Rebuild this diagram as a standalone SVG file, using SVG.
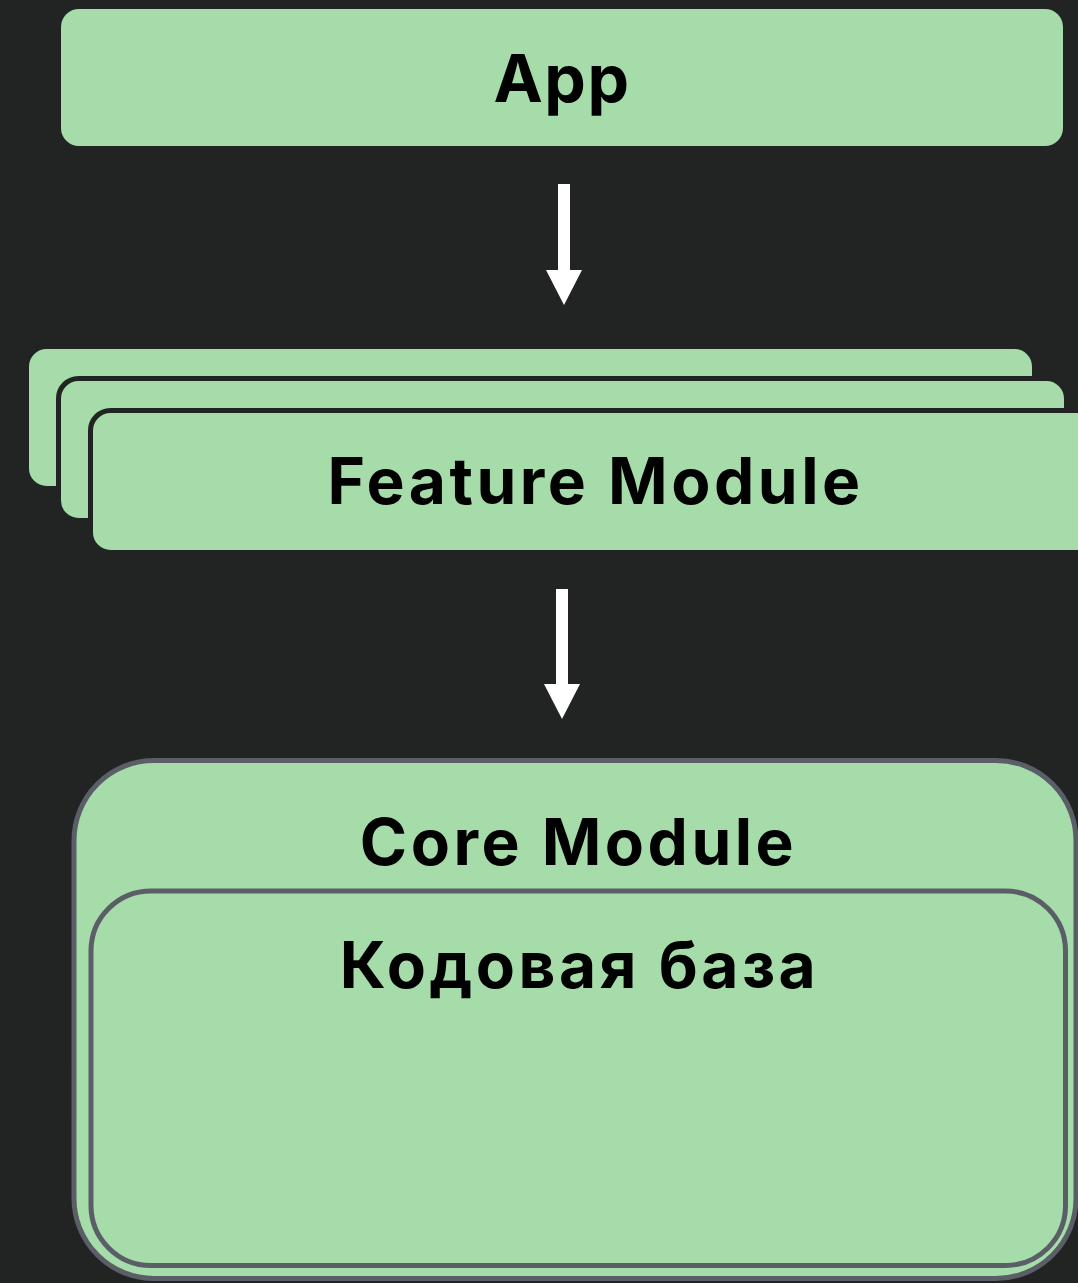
<svg xmlns="http://www.w3.org/2000/svg" width="1078" height="1283" viewBox="0 0 1078 1283">
  <defs>
    <style>
      .bg { fill: #222424; }
      .box { fill: #a6dcaa; }
      .stack { fill: #a6dcaa; stroke: #222424; stroke-width: 5; }
      .core { fill: #a6dcaa; stroke: #5a5e67; stroke-width: 5; }
      .label { font-family: Inter, "Liberation Sans", "DejaVu Sans", sans-serif; font-weight: 700; fill: #000000; text-anchor: middle; letter-spacing: 3.5px; }
      .conn { stroke: #ffffff; stroke-width: 12; fill: none; }
    </style>
    <marker id="head" markerUnits="userSpaceOnUse" markerWidth="40" markerHeight="40" refX="1" refY="0" viewBox="0 -20 40 40" orient="auto" overflow="visible">
      <path d="M0,-18 L35,0 L0,18 Z" fill="#ffffff"/>
    </marker>
  </defs>

  <rect class="bg" x="0" y="0" width="1078" height="1283"/>

  <!-- top level application -->
  <g id="app">
    <rect class="box" x="61" y="9" width="1002" height="137" rx="18"/>
    <text class="label" x="562" y="102" font-size="66" style="letter-spacing:1.5px">App</text>
  </g>

  <!-- stacked feature modules -->
  <g id="feature-module">
    <rect class="stack" x="26.5" y="346.5" width="1008" height="142" rx="20"/>
    <rect class="stack" x="58.5" y="378.5" width="1008" height="142" rx="20"/>
    <rect class="stack" x="90.5" y="410.5" width="1008" height="142" rx="20"/>
    <text class="label" x="595.5" y="504" font-size="64">Feature Module</text>
  </g>

  <!-- core module with shared code base -->
  <g id="core-module">
    <rect class="core" x="74" y="760.5" width="1002" height="518" rx="80"/>
    <text class="label" x="578.5" y="865" font-size="64">Core Module</text>
    <g id="code-base">
      <rect class="core" x="91" y="891" width="974.5" height="374.5" rx="60"/>
      <text class="label" x="579.5" y="988" font-size="64">Кодовая база</text>
    </g>
  </g>

  <g id="connectors">
    <line class="conn" x1="564" y1="184" x2="564" y2="271" marker-end="url(#head)"/>
    <line class="conn" x1="562" y1="589" x2="562" y2="685" marker-end="url(#head)"/>
  </g>
</svg>
